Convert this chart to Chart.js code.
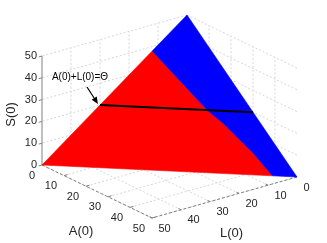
<!DOCTYPE html>
<html>
<head>
<meta charset="utf-8">
<script src="https://cdn.jsdelivr.net/npm/chart.js@4.4.1/dist/chart.umd.min.js"></script>
<style>
  body { margin: 0; background: #fff; }
  canvas { display: block; }
</style>
</head>
<body>
<canvas id="grafico3d" width="327" height="243"></canvas>
<script>
// tick values on the three axes
const aTicks = [0, 10, 20, 30, 40, 50];
const lTicks = [0, 10, 20, 30, 40, 50];
const sTicks = [0, 10, 20, 30, 40, 50];

// surface: S(0) = sTop - A(0) - L(0)
const sTop = 50;
// level of the black line A(0)+L(0)=Θ
const thetaLevel = 30;
// red / blue border (S and L values)
const boundaryS = [38, 20, 16, 11, 7, 0];
const boundaryL = [12, 9, 7.6, 6.5, 5.6, 4.8];

// viewing projection (screen units per data unit)
const view = { x0: 187, y0: 124, ax: 2.2, ay: 1.06, lx: -2.9, ly: 0.82, sy: -2.18 };

function proj(a, l, s) {
  return {
    x: view.x0 + a * view.ax + l * view.lx,
    y: view.y0 + a * view.ay + l * view.ly + s * view.sy
  };
}

function line(points, color, width, dash, order) {
  return {
    data: points.map(p => proj(p[0], p[1], p[2])),
    showLine: true,
    borderColor: color,
    borderWidth: width,
    borderDash: dash,
    pointRadius: 0,
    fill: false,
    tension: 0,
    order: order
  };
}

function shape(points, color, order) {
  return {
    data: points.map(p => proj(p[0], p[1], p[2])),
    showLine: true,
    borderColor: color,
    backgroundColor: color,
    borderWidth: 0.6,
    pointRadius: 0,
    fill: 'shape',
    tension: 0,
    order: order
  };
}

const aMax = aTicks[aTicks.length - 1];
const lMax = lTicks[lTicks.length - 1];
const sMax = sTicks[sTicks.length - 1];

const border = boundaryS.map((s, i) => [sTop - s - boundaryL[i], boundaryL[i], s]);

const datasets = [];
const gridColor = '#d6d6d6';

// back walls and floor grid
sTicks.forEach(s => {
  datasets.push(line([[0, 0, s], [0, lMax, s]], gridColor, 1, [2, 2], 50));
  datasets.push(line([[0, 0, s], [aMax, 0, s]], gridColor, 1, [2, 2], 50));
});
lTicks.forEach(l => {
  if (l < lMax) datasets.push(line([[0, l, 0], [0, l, sMax]], gridColor, 1, [2, 2], 50));
  datasets.push(line([[0, l, 0], [aMax, l, 0]], gridColor, 1, [2, 2], 50));
});
aTicks.forEach(a => {
  if (a > 0 && a < aMax) datasets.push(line([[a, 0, 0], [a, 0, sMax]], gridColor, 1, [2, 2], 50));
  datasets.push(line([[a, 0, 0], [a, lMax, 0]], gridColor, 1, [2, 2], 50));
});

// axis lines
const axisColor = '#808080';
datasets.push(line([[0, lMax, 0], [aMax, lMax, 0]], axisColor, 1, [3, 2], 40));
datasets.push(line([[aMax, 0, 0], [aMax, lMax, 0]], axisColor, 1, [3, 2], 40));
datasets.push(line([[0, lMax, 0], [0, lMax, sMax]], axisColor, 1, [], 40));
aTicks.forEach(a => datasets.push(line([[a, lMax, 0], [a, lMax - 1.2, 0]], axisColor, 1, [], 40)));
lTicks.forEach(l => datasets.push(line([[aMax, l, 0], [aMax - 1.2, l, 0]], axisColor, 1, [], 40)));
sTicks.forEach(s => datasets.push(line([[0, lMax, s], [0, lMax + 1.1, s]], axisColor, 1, [], 40)));

// surface patches
const redPts = [[0, sTop, 0], [0, boundaryL[0], boundaryS[0]]].concat(border.slice(1), [[0, sTop, 0]]);
const bluePts = [[0, 0, sTop], [sTop, 0, 0]].concat(border.slice().reverse(), [[0, 0, sTop]]);
datasets.push(shape(redPts, '#ff0000', 30));
datasets.push(shape(bluePts, '#0000ff', 29));

// A(0)+L(0)=Θ line
datasets.push(line([[0, thetaLevel, sTop - thetaLevel], [thetaLevel, 0, sTop - thetaLevel]], '#000000', 2, [], 10));

const font = '"Liberation Sans", Arial, sans-serif';
const textColor = '#262626';

const labelsPlugin = {
  id: 'labels3d',
  afterDraw(chart) {
    const ctx = chart.ctx;
    const sx = chart.scales.x;
    const sy = chart.scales.y;
    const px = p => ({ x: sx.getPixelForValue(p.x), y: sy.getPixelForValue(p.y) });
    ctx.save();
    ctx.fillStyle = textColor;
    ctx.font = '11px ' + font;
    ctx.textBaseline = 'middle';

    ctx.textAlign = 'right';
    sTicks.forEach(s => {
      const p = px(proj(0, lMax, s));
      ctx.fillText(String(s), p.x - 5, p.y);
    });
    aTicks.forEach(a => {
      const p = px(proj(a, lMax, 0));
      ctx.fillText(String(a), p.x - 7, p.y + 10.5);
    });
    ctx.textAlign = 'left';
    lTicks.forEach(l => {
      const p = px(proj(aMax, l, 0));
      ctx.fillText(String(l), p.x + 6.5, p.y + 10.5);
    });

    ctx.font = '13px ' + font;
    ctx.textAlign = 'center';
    const aMid = px(proj(aMax / 2, lMax, 0));
    ctx.fillText('A(0)', aMid.x - 16, aMid.y + 40);
    const lMid = px(proj(aMax, lMax / 2, 0));
    ctx.fillText('L(0)', lMid.x + 7, lMid.y + 36);
    const sMid = px(proj(0, lMax, sMax / 2));
    ctx.save();
    ctx.translate(sMid.x - 31, sMid.y + 4);
    ctx.rotate(-Math.PI / 2);
    ctx.fillText('S(0)', 0, 0);
    ctx.restore();

    // annotation with arrow to the theta line
    const tip = px(proj(0, thetaLevel, sTop - thetaLevel));
    const tx = tip.x - 2, ty = tip.y - 1;
    const bx = tx - 11, by = ty - 17;
    ctx.font = '10px ' + font;
    ctx.fillStyle = '#000';
    ctx.fillText('A(0)+L(0)=\u0398', tx - 18, ty - 27);
    ctx.strokeStyle = '#000';
    ctx.lineWidth = 1.2;
    const ang = Math.atan2(ty - by, tx - bx);
    ctx.beginPath();
    ctx.moveTo(bx, by);
    ctx.lineTo(tx - 6 * Math.cos(ang), ty - 6 * Math.sin(ang));
    ctx.stroke();
    ctx.beginPath();
    ctx.moveTo(tx, ty);
    ctx.lineTo(tx - 7 * Math.cos(ang) + 3 * Math.sin(ang), ty - 7 * Math.sin(ang) - 3 * Math.cos(ang));
    ctx.lineTo(tx - 7 * Math.cos(ang) - 3 * Math.sin(ang), ty - 7 * Math.sin(ang) + 3 * Math.cos(ang));
    ctx.closePath();
    ctx.fill();
    ctx.restore();
  }
};

new Chart(document.getElementById('grafico3d'), {
  type: 'scatter',
  data: { datasets },
  options: {
    responsive: false,
    animation: false,
    devicePixelRatio: 1,
    layout: { padding: 0 },
    plugins: { legend: { display: false }, tooltip: { enabled: false } },
    scales: {
      x: { type: 'linear', min: 0, max: 327, display: false },
      y: { type: 'linear', min: 0, max: 243, reverse: true, display: false }
    }
  },
  plugins: [labelsPlugin]
});
</script>
</body>
</html>
